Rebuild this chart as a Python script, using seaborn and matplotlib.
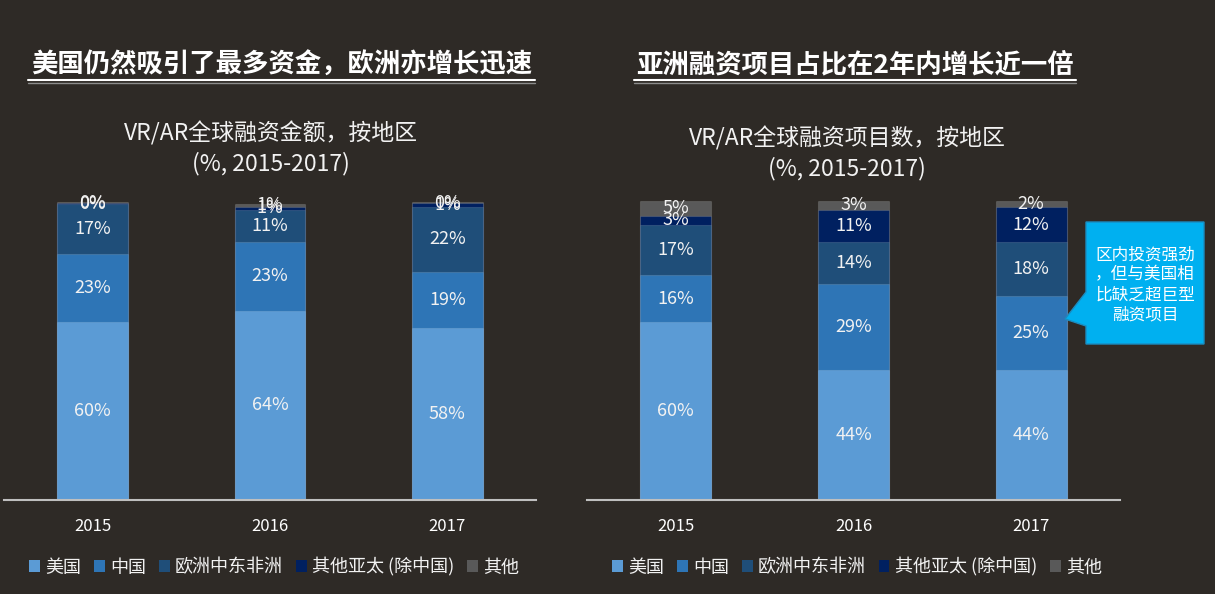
import matplotlib
matplotlib.use('Agg')
import matplotlib.pyplot as plt
from matplotlib.patches import Patch, Polygon
from matplotlib.lines import Line2D
import pandas as pd
import seaborn as sns

# ---- data ----
years = ['2015', '2016', '2017']
regions = ['美国', '中国', '欧洲中东非洲', '其他亚太 (除中国)', '其他']
region_colors = ['#5b9bd5', '#2e75b6', '#1f4e79', '#002060', '#595959']

# 融资金额, %
amt_us = [60, 64, 58]
amt_cn = [23, 23, 19]
amt_emea = [17, 11, 22]
amt_apac = [0.2, 1, 1.3]
amt_other = [0.3, 1, 0.3]

# 融资项目数, %
cnt_us = [60, 44, 44]
cnt_cn = [16, 29, 25]
cnt_emea = [17, 14, 18]
cnt_apac = [3, 11, 12]
cnt_other = [5, 3, 2]

bg = '#2e2a26'
W, H = 1215, 594

sns.set_theme(style='dark', rc={'axes.facecolor': bg, 'figure.facecolor': bg})
plt.rcParams['font.family'] = ['Noto Sans CJK SC', 'DejaVu Sans']


def px(x, y):
    # pixel position -> figure fraction
    return x / W, 1 - y / H


def draw_stack(ax, layers):
    df = pd.DataFrame(dict(zip(regions, layers)), index=years)
    cum = df.cumsum(axis=1)
    # overlapping cumulative bars, tallest first
    for name, color in reversed(list(zip(regions, region_colors))):
        sns.barplot(x=years, y=cum[name].values, color=color, width=0.4,
                    saturation=1, errorbar=None, ax=ax,
                    edgecolor=(1, 1, 1, 0.12), linewidth=0.8)
    for i, yr in enumerate(years):
        for name in regions:
            v = df.loc[yr, name]
            c = cum.loc[yr, name]
            ax.text(i, c - v / 2, f'{v:.0f}%', ha='center', va='center',
                    color='#f2f2f2', fontsize=13, zorder=5)

    ax.set_xlim(-0.5, 2.5)
    ax.set_ylim(0, 102)
    ax.set_xlabel('')
    ax.set_ylabel('')
    ax.set_yticks([])
    for s in ['top', 'left', 'right']:
        ax.spines[s].set_visible(False)
    ax.spines['bottom'].set_color('#bfbfbf')
    ax.spines['bottom'].set_linewidth(1.5)
    ax.tick_params(axis='x', length=0, pad=13, labelsize=12, labelcolor='white')
    ax.grid(False)


fig = plt.figure(figsize=(W / 100, H / 100), dpi=100)
ax1 = fig.add_axes([4 / W, 94 / H, 532 / W, 302 / H])
ax2 = fig.add_axes([587 / W, 94 / H, 533 / W, 302 / H])

draw_stack(ax1, [amt_us, amt_cn, amt_emea, amt_apac, amt_other])
draw_stack(ax2, [cnt_us, cnt_cn, cnt_emea, cnt_apac, cnt_other])

# headline titles with underline
for x0, x1, txt in [(28, 535, '美国仍然吸引了最多资金，欧洲亦增长迅速'),
                    (634, 1076, '亚洲融资项目占比在2年内增长近一倍')]:
    fig.text(*px((x0 + x1) / 2, 65), txt, ha='center', va='center',
             fontsize=19, fontweight='bold', color='white')
    fig.add_artist(Line2D([x0 / W, x1 / W], [1 - 80 / H] * 2, color='white', lw=1.5))
    fig.add_artist(Line2D([x0 / W, x1 / W], [1 - 83 / H] * 2, color='#8c8c8c', lw=1))

# chart subtitles
fig.text(*px(271, 133), 'VR/AR全球融资金额，按地区', ha='center', va='center',
         fontsize=16.5, color='#f2f2f2')
fig.text(*px(271, 164), '(%, 2015-2017)', ha='center', va='center',
         fontsize=16.5, color='#f2f2f2')
fig.text(*px(847, 138), 'VR/AR全球融资项目数，按地区', ha='center', va='center',
         fontsize=16.5, color='#f2f2f2')
fig.text(*px(847, 169), '(%, 2015-2017)', ha='center', va='center',
         fontsize=16.5, color='#f2f2f2')

# legends
handles = [Patch(facecolor=c, edgecolor='none') for c in region_colors]
for ax, x0 in [(ax1, 29), (ax2, 612)]:
    ax.legend(handles, regions, loc='center left', bbox_to_anchor=px(x0, 567),
              bbox_transform=fig.transFigure, ncol=5, frameon=False,
              fontsize=13, labelcolor='#f2f2f2', handlelength=0.6,
              handleheight=0.6, handletextpad=0.3, columnspacing=0.7,
              borderpad=0, borderaxespad=0)

# callout
pts = [(1086, 222), (1204, 222), (1204, 344), (1086, 344), (1086, 326),
       (1065, 319), (1086, 292)]
fig.add_artist(Polygon([px(x, y) for x, y in pts], closed=True,
                       facecolor='#00b0f0', edgecolor='#1b8cc0', lw=1,
                       transform=fig.transFigure))
fig.text(*px(1145, 285), '区内投资强劲\n，但与美国相\n比缺乏超巨型\n融资项目',
         ha='center', va='center', fontsize=12, linespacing=1.25, color='white')

fig.savefig('out.png', dpi=100, facecolor=bg)
